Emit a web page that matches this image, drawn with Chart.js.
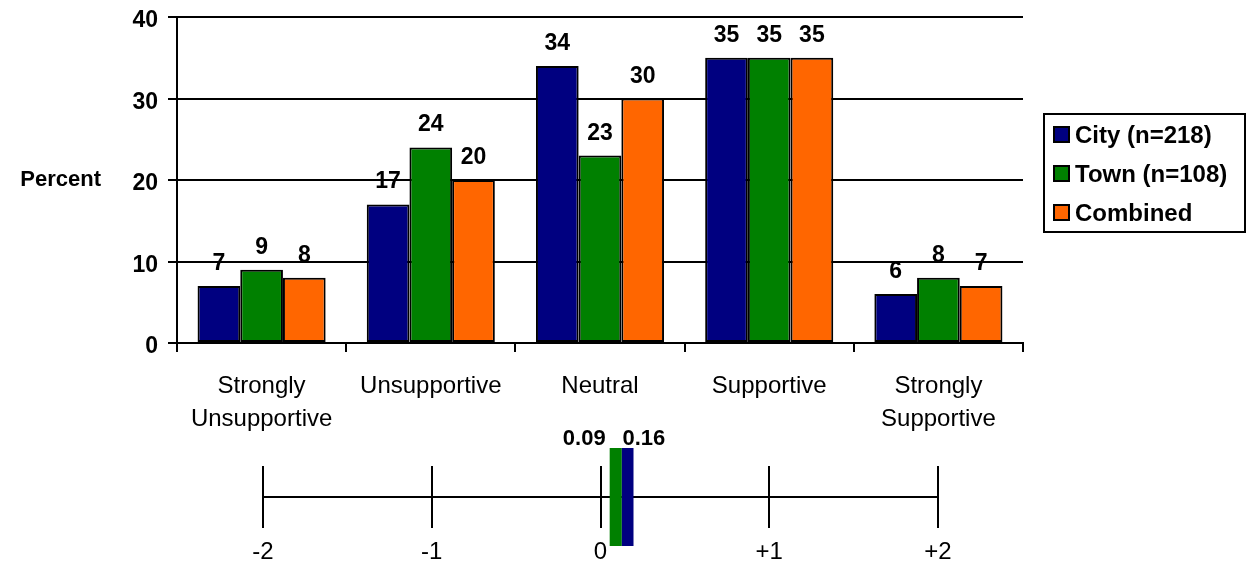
<!DOCTYPE html>
<html>
<head>
<meta charset="utf-8">
<script src="https://cdn.jsdelivr.net/npm/chart.js@4.4.1/dist/chart.umd.min.js"></script>
<style>
html,body{margin:0;padding:0;background:#fff;}
#wrap{position:relative;width:1247px;height:569px;overflow:hidden;background:#fff;}
#c1{position:absolute;left:0;top:0;}
#c2{position:absolute;left:0;top:425px;}
</style>
</head>
<body>
<div id="wrap">
<canvas id="c1" width="1247" height="440"></canvas>
<canvas id="c2" width="1247" height="144"></canvas>
</div>
<script>
// ---- data ----
const categories = [['Strongly', 'Unsupportive'], 'Unsupportive', 'Neutral', 'Supportive', ['Strongly', 'Supportive']];
const seriesNames = ['City (n=218)', 'Town (n=108)', 'Combined'];
const cityValues = [7, 17, 34, 35, 6];
const townValues = [9, 24, 23, 35, 8];
const combinedValues = [8, 20, 30, 35, 7];
const yTickValues = [0, 10, 20, 30, 40];
const yAxisTitle = 'Percent';
const scaleValues = [-2, -1, 0, 1, 2];
const scaleLabels = ['-2', '-1', '0', '+1', '+2'];
const meanNames = ['Town (n=108)', 'City (n=218)'];
const meanValues = [0.09, 0.16];
const meanLabels = ['0.09', '0.16'];

// ---- styles ----
const FONT = "'Liberation Sans', Arial, sans-serif";
const NAVY = '#000080', GREEN = '#008000', ORANGE = '#FF6600';
const seriesColors = [NAVY, GREEN, ORANGE];
const meanColors = [GREEN, NAVY];
const seriesData = [cityValues, townValues, combinedValues];

const topPlugin = {
  id: 'topExtras',
  afterDatasetsDraw(chart) {
    const ctx = chart.ctx;
    ctx.save();
    ctx.fillStyle = '#000';
    ctx.font = 'bold 23px ' + FONT;
    ctx.textAlign = 'center';
    ctx.textBaseline = 'alphabetic';
    chart.data.datasets.forEach((ds, di) => {
      const meta = chart.getDatasetMeta(di);
      meta.data.forEach((bar, i) => {
        ctx.fillText(String(ds.data[i]), bar.x, bar.y - 16);
      });
    });
    ctx.restore();
  },
  afterDraw(chart) {
    const ctx = chart.ctx;
    ctx.save();
    ctx.fillStyle = '#000';
    // y-axis title (horizontal)
    ctx.font = 'bold 22px ' + FONT;
    ctx.textAlign = 'right';
    ctx.textBaseline = 'middle';
    ctx.fillText(yAxisTitle, 101, 180);
    // legend
    const lx = 1044, ly = 114, lw = 201, lh = 118;
    ctx.lineWidth = 2;
    ctx.strokeStyle = '#000';
    ctx.strokeRect(lx, ly, lw, lh);
    ctx.font = 'bold 24px ' + FONT;
    ctx.textAlign = 'left';
    const rows = [135, 174, 213];
    chart.data.datasets.forEach((ds, i) => {
      const y = rows[i];
      ctx.fillStyle = ds.backgroundColor;
      ctx.fillRect(1054, y - 8, 15, 15);
      ctx.strokeRect(1054, y - 8, 15, 15);
      ctx.fillStyle = '#000';
      ctx.fillText(ds.label, 1075, y + 1);
    });
    ctx.restore();
  }
};

new Chart(document.getElementById('c1'), {
  type: 'bar',
  data: {
    labels: categories,
    datasets: seriesNames.map((name, i) => ({
      label: name,
      data: seriesData[i],
      backgroundColor: seriesColors[i],
      borderColor: '#000',
      borderWidth: 2,
      borderSkipped: false,
      categoryPercentage: 0.757,
      barPercentage: 1
    }))
  },
  options: {
    responsive: false,
    animation: false,
    events: [],
    layout: { autoPadding: false, padding: { left: 0, right: 224, top: 17, bottom: 0 } },
    plugins: { legend: { display: false }, tooltip: { enabled: false } },
    scales: {
      x: {
        grid: { display: true, drawOnChartArea: false, drawTicks: true, tickLength: 9, color: '#000', lineWidth: 2, offset: true },
        border: { display: true, color: '#000', width: 2 },
        ticks: { color: '#000', font: { family: FONT, size: 24, lineHeight: 1.375 }, padding: 18, maxRotation: 0, autoSkip: false },
        afterFit(s) { s.height = 440 - 343; s.paddingLeft = 0; s.paddingRight = 0; }
      },
      y: {
        min: 0, max: 40,
        afterBuildTicks(s) { s.ticks = yTickValues.map(v => ({ value: v })); },
        ticks: { color: '#000', font: { family: FONT, size: 23, weight: 'bold' }, padding: 10, labelOffset: 4 },
        grid: { color: '#000', lineWidth: 2, tickLength: 9 },
        border: { display: true, color: '#000', width: 2 },
        afterFit(s) { s.width = 177; s.paddingTop = 0; s.paddingBottom = 0; }
      }
    }
  },
  plugins: [topPlugin]
});

const meanPlugin = {
  id: 'meanLabels',
  afterDatasetsDraw(chart) {
    const ctx = chart.ctx;
    ctx.save();
    ctx.fillStyle = '#000';
    ctx.font = 'bold 22px ' + FONT;
    ctx.textBaseline = 'alphabetic';
    chart.data.datasets.forEach((ds, i) => {
      const pt = chart.getDatasetMeta(i).data[0];
      if (i === 0) { ctx.textAlign = 'right'; ctx.fillText(meanLabels[i], pt.x - 10, 20); }
      else { ctx.textAlign = 'left'; ctx.fillText(meanLabels[i], pt.x - 5, 20); }
    });
    ctx.restore();
  }
};

new Chart(document.getElementById('c2'), {
  type: 'scatter',
  data: {
    datasets: meanValues.map((v, i) => ({
      label: meanNames[i],
      data: [{ x: v, y: 0.5 }],
      pointStyle: 'line',
      pointRotation: 90,
      pointRadius: 49,
      pointBorderWidth: 12,
      pointBorderColor: meanColors[i],
      borderColor: meanColors[i],
      backgroundColor: meanColors[i],
      clip: false
    }))
  },
  options: {
    responsive: false,
    animation: false,
    events: [],
    layout: { autoPadding: false, padding: { left: 263, right: 309, top: 41, bottom: 0 } },
    plugins: { legend: { display: false }, tooltip: { enabled: false } },
    scales: {
      x: {
        type: 'linear', min: -2, max: 2,
        afterBuildTicks(s) { s.ticks = scaleValues.map(v => ({ value: v })); },
        ticks: { color: '#000', font: { family: FONT, size: 24 }, padding: 10, callback: (v, i) => scaleLabels[i] },
        grid: { color: '#000', lineWidth: 2, drawTicks: false },
        border: { display: false },
        afterFit(s) { s.height = 41; }
      },
      y: {
        min: 0, max: 1,
        afterBuildTicks(s) { s.ticks = [{ value: 0.5 }]; },
        ticks: { display: false },
        grid: { color: '#000', lineWidth: 2, drawTicks: false },
        border: { display: false },
        afterFit(s) { s.width = 0; s.paddingTop = 0; s.paddingBottom = 0; }
      }
    }
  },
  plugins: [meanPlugin]
});
</script>
</body>
</html>
